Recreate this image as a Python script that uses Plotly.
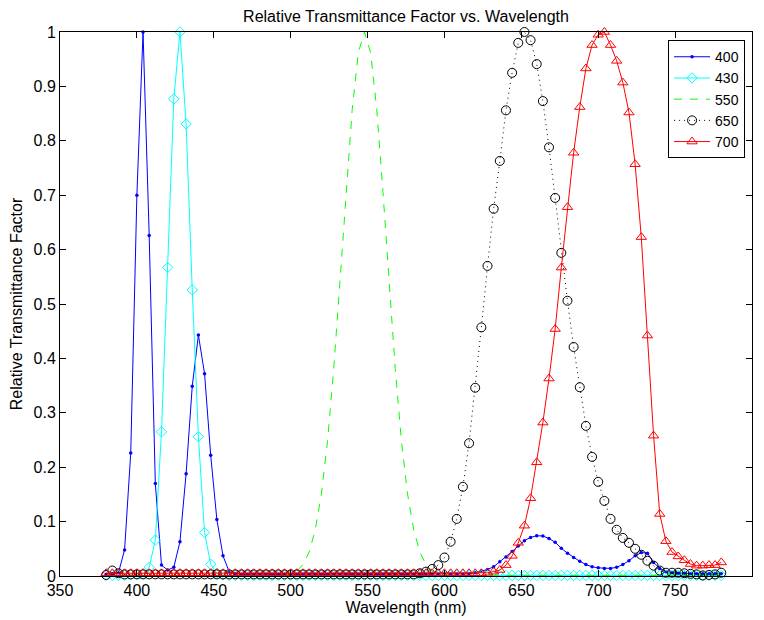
import plotly.graph_objects as go

# Wavelength samples (nm), 380..780 every 4 nm
wavelength = [380, 384, 388, 392, 396, 400, 404, 408, 412, 416,
              420, 424, 428, 432, 436, 440, 444, 448, 452, 456,
              460, 464, 468, 472, 476, 480, 484, 488, 492, 496,
              500, 504, 508, 512, 516, 520, 524, 528, 532, 536,
              540, 544, 548, 552, 556, 560, 564, 568, 572, 576,
              580, 584, 588, 592, 596, 600, 604, 608, 612, 616,
              620, 624, 628, 632, 636, 640, 644, 648, 652, 656,
              660, 664, 668, 672, 676, 680, 684, 688, 692, 696,
              700, 704, 708, 712, 716, 720, 724, 728, 732, 736,
              740, 744, 748, 752, 756, 760, 764, 768, 772, 776,
              780]

t400 = [0.003, 0.004, 0.006, 0.048, 0.226, 0.700, 1.000, 0.626, 0.170, 0.020,
        0.011, 0.016, 0.063, 0.188, 0.349, 0.443, 0.372, 0.222, 0.104, 0.037,
        0.008, 0.004, 0.003, 0.003, 0.003, 0.003, 0.003, 0.003, 0.003, 0.003,
        0.003, 0.003, 0.003, 0.003, 0.003, 0.003, 0.003, 0.003, 0.003, 0.003,
        0.003, 0.003, 0.003, 0.003, 0.003, 0.003, 0.003, 0.003, 0.003, 0.003,
        0.003, 0.003, 0.003, 0.003, 0.003, 0.003, 0.003, 0.003, 0.003, 0.004,
        0.006, 0.009, 0.012, 0.017, 0.026, 0.035, 0.045, 0.055, 0.065, 0.071,
        0.074, 0.0735, 0.069, 0.062, 0.051, 0.042, 0.034, 0.027, 0.021, 0.017,
        0.015, 0.014, 0.014, 0.016, 0.021, 0.028, 0.037, 0.043, 0.042, 0.025,
        0.014, 0.008, 0.006, 0.005, 0.005, 0.004, 0.004, 0.004, 0.004, 0.004,
        0.004]

t430 = [0.001, 0.001, 0.001, 0.001, 0.002, 0.003, 0.004, 0.016, 0.066, 0.265,
        0.567, 0.877, 1.000, 0.831, 0.526, 0.256, 0.080, 0.0215, 0.005, 0.002,
        0.001, 0.001, 0.001, 0.001, 0.001, 0.001, 0.001, 0.001, 0.001, 0.001,
        0.001, 0.001, 0.001, 0.001, 0.001, 0.001, 0.001, 0.001, 0.001, 0.001,
        0.001, 0.001, 0.001, 0.001, 0.001, 0.001, 0.001, 0.001, 0.001, 0.001,
        0.001, 0.001, 0.001, 0.001, 0.001, 0.001, 0.001, 0.001, 0.001, 0.001,
        0.001, 0.001, 0.001, 0.001, 0.001, 0.001, 0.001, 0.001, 0.001, 0.001,
        0.001, 0.001, 0.001, 0.001, 0.001, 0.001, 0.001, 0.001, 0.001, 0.001,
        0.001, 0.001, 0.001, 0.001, 0.001, 0.001, 0.001, 0.001, 0.001, 0.001,
        0.001, 0.001, 0.001, 0.001, 0.001, 0.001, 0.001, 0.001, 0.001, 0.001,
        0.001]

t550 = [0.001, 0.001, 0.001, 0.001, 0.001, 0.001, 0.001, 0.001, 0.001, 0.001,
        0.001, 0.001, 0.001, 0.001, 0.001, 0.001, 0.001, 0.001, 0.001, 0.001,
        0.001, 0.001, 0.001, 0.001, 0.001, 0.001, 0.001, 0.001, 0.001, 0.001,
        0.004, 0.009, 0.021, 0.044, 0.085, 0.151, 0.249, 0.381, 0.539, 0.707,
        0.857, 0.962, 1.000, 0.962, 0.857, 0.707, 0.539, 0.381, 0.249, 0.151,
        0.085, 0.044, 0.021, 0.009, 0.004, 0.002, 0.001, 0.001, 0.001, 0.001,
        0.001, 0.001, 0.001, 0.001, 0.001, 0.001, 0.001, 0.001, 0.001, 0.001,
        0.001, 0.001, 0.001, 0.001, 0.001, 0.001, 0.001, 0.001, 0.001, 0.001,
        0.001, 0.001, 0.001, 0.001, 0.001, 0.001, 0.001, 0.001, 0.001, 0.001,
        0.001, 0.001, 0.001, 0.001, 0.001, 0.001, 0.001, 0.001, 0.001, 0.001,
        0.001]

t650 = [0.002, 0.010, 0.005, 0.003, 0.003, 0.003, 0.003, 0.003, 0.003, 0.003,
        0.003, 0.003, 0.003, 0.003, 0.003, 0.003, 0.003, 0.003, 0.003, 0.003,
        0.003, 0.003, 0.003, 0.003, 0.003, 0.003, 0.003, 0.003, 0.003, 0.003,
        0.003, 0.003, 0.003, 0.003, 0.003, 0.003, 0.003, 0.003, 0.003, 0.003,
        0.003, 0.003, 0.003, 0.003, 0.003, 0.003, 0.003, 0.003, 0.003, 0.003,
        0.003, 0.005, 0.008, 0.013, 0.020, 0.034, 0.063, 0.105, 0.164, 0.244,
        0.346, 0.457, 0.570, 0.675, 0.763, 0.856, 0.925, 0.980, 1.000, 0.985,
        0.941, 0.873, 0.788, 0.695, 0.594, 0.506, 0.421, 0.347, 0.276, 0.219,
        0.173, 0.138, 0.105, 0.085, 0.070, 0.061, 0.050, 0.039, 0.028, 0.019,
        0.010, 0.006, 0.006, 0.006, 0.005, 0.004, 0.003, 0.001, 0.002, 0.003,
        0.006]

t700 = [0.005, 0.005, 0.005, 0.005, 0.005, 0.005, 0.005, 0.005, 0.005, 0.005,
        0.005, 0.005, 0.005, 0.005, 0.005, 0.005, 0.005, 0.005, 0.005, 0.005,
        0.005, 0.005, 0.005, 0.005, 0.005, 0.005, 0.005, 0.005, 0.005, 0.005,
        0.005, 0.005, 0.005, 0.005, 0.005, 0.005, 0.005, 0.005, 0.005, 0.005,
        0.005, 0.005, 0.005, 0.005, 0.005, 0.005, 0.005, 0.005, 0.005, 0.005,
        0.005, 0.005, 0.005, 0.005, 0.005, 0.005, 0.005, 0.005, 0.005, 0.005,
        0.005, 0.005, 0.006, 0.008, 0.011, 0.020, 0.037, 0.061, 0.0925, 0.143,
        0.209, 0.282, 0.363, 0.454, 0.567, 0.678, 0.778, 0.862, 0.933, 0.976,
        0.995, 1.000, 0.976, 0.947, 0.907, 0.852, 0.757, 0.623, 0.442, 0.258,
        0.114, 0.064, 0.044, 0.036, 0.029, 0.022, 0.019, 0.019, 0.020, 0.020,
        0.025]

for s in (t400, t430, t550, t650, t700):
    assert len(s) == len(wavelength)

x_ticks = [350, 400, 450, 500, 550, 600, 650, 700, 750, 800]
y_ticks = [0, 0.1, 0.2, 0.3, 0.4, 0.5, 0.6, 0.7, 0.8, 0.9, 1]
y_ticktext = ["0", "0.1", "0.2", "0.3", "0.4", "0.5", "0.6", "0.7", "0.8", "0.9", "1"]

FONT = "Liberation Sans, Arial, Helvetica, sans-serif"

fig = go.Figure()
fig.add_trace(go.Scatter(x=wavelength, y=t400, name="400", mode="lines+markers",
                         line=dict(color="#0000ff", width=1),
                         marker=dict(symbol="circle", size=3.5, color="#0000ff"),
                         cliponaxis=False))
fig.add_trace(go.Scatter(x=wavelength, y=t430, name="430", mode="lines+markers",
                         line=dict(color="#00ffff", width=1),
                         marker=dict(symbol="diamond-open", size=8, color="#00ffff",
                                     line=dict(width=1)),
                         cliponaxis=False))
fig.add_trace(go.Scatter(x=wavelength, y=t550, name="550", mode="lines",
                         line=dict(color="#00ff00", width=1, dash="8px,8px"),
                         cliponaxis=False))
fig.add_trace(go.Scatter(x=wavelength, y=t650, name="650", mode="lines+markers",
                         line=dict(color="#000000", width=1, dash="1px,4px"),
                         marker=dict(symbol="circle-open", size=9, color="#000000",
                                     line=dict(width=1)),
                         cliponaxis=False))
fig.add_trace(go.Scatter(x=wavelength, y=t700, name="700", mode="lines+markers",
                         line=dict(color="#ff0000", width=1),
                         marker=dict(symbol="triangle-up-open", size=9, color="#ff0000",
                                     line=dict(width=1)),
                         cliponaxis=False))

axis_common = dict(showline=True, linecolor="black", linewidth=1, mirror="ticks",
                   ticks="inside", ticklen=6, tickwidth=1, tickcolor="black",
                   showgrid=False, zeroline=False, automargin=False,
                   tickfont=dict(family=FONT, size=16, color="black"))

# The page body adds an 8 px offset, so the figure is sized to fill the rest.
fig.update_layout(
    width=756, height=612,
    margin=dict(l=52, r=12, t=24, b=44),
    paper_bgcolor="white", plot_bgcolor="white",
    font=dict(family=FONT, color="black"),
    title=dict(text="Relative Transmittance Factor vs. Wavelength",
               x=0.5, xref="paper", xanchor="center",
               y=1 - 8 / 612, yref="container", yanchor="middle",
               font=dict(family=FONT, size=16, color="black")),
    xaxis=dict(range=[350, 800], tickvals=x_ticks,
               title=dict(text="Wavelength (nm)", standoff=0,
                          font=dict(family=FONT, size=16, color="black")),
               **axis_common),
    yaxis=dict(range=[0, 1], tickvals=y_ticks, ticktext=y_ticktext,
               title=dict(text="Relative Transmittance Factor", standoff=8,
                          font=dict(family=FONT, size=16, color="black")),
               **axis_common),
    legend=dict(x=0.99, xanchor="right", y=0.985, yanchor="top",
                bgcolor="white", bordercolor="black", borderwidth=1,
                font=dict(family=FONT, size=14, color="black"),
                itemwidth=36, tracegroupgap=0),
    showlegend=True,
)

fig.write_html("out.html")
